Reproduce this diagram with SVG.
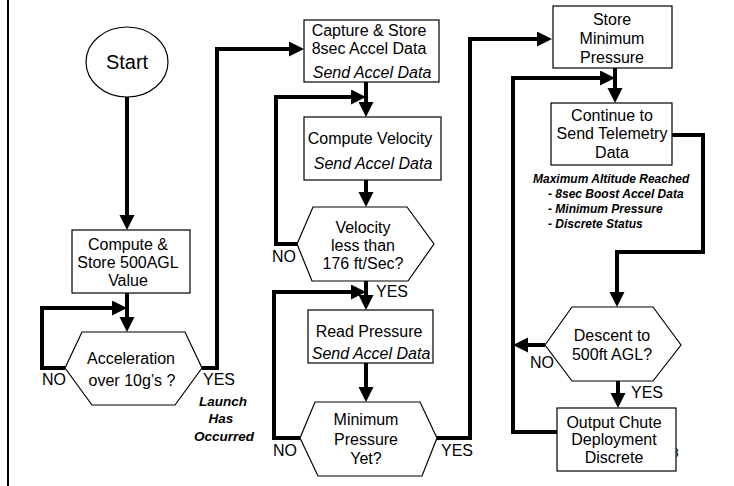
<svg xmlns="http://www.w3.org/2000/svg" width="734" height="486" viewBox="0 0 734 486">
<defs>
<marker id="ah" markerUnits="userSpaceOnUse" markerWidth="16" markerHeight="16" refX="11" refY="7.5" orient="auto">
<path d="M0,0 L15,7.5 L0,15 z" fill="#000"/>
</marker>
<style>
.box{fill:#fff;stroke:#000;stroke-width:1.2}
.t{font-family:"Liberation Sans",Arial,sans-serif;font-size:16px;fill:#000;text-anchor:middle}
.i{font-style:italic}
.lb{font-family:"Liberation Sans",Arial,sans-serif;font-size:16px;fill:#000}
.bi{font-family:"Liberation Sans",Arial,sans-serif;font-size:13.5px;font-weight:bold;font-style:italic;fill:#000}
.c{fill:none;stroke:#000;stroke-width:4;stroke-linejoin:miter}
.a{marker-end:url(#ah)}
</style>
</defs>
<rect width="734" height="486" fill="#fff"/>
<line x1="8" y1="0" x2="8" y2="486" stroke="#000" stroke-width="2"/>

<g id="connectors">
<path class="c a" d="M127,97 V226"/>
<path class="c a" d="M127,293 V328"/>
<path class="c a" d="M65,368 H42 V308 H123"/>
<path class="c a" d="M202,368 H217 V49 H300"/>
<path class="c a" d="M366,82 V113"/>
<path class="c a" d="M297,244 H276 V97 H362"/>
<path class="c a" d="M366,180 V203"/>
<path class="c a" d="M366,281 V306"/>
<path class="c a" d="M300,438 H274 V292 H362"/>
<path class="c a" d="M366,363 V398"/>
<path class="c a" d="M437,438 H470 V39 H548"/>
<path class="c a" d="M615,68 V99"/>
<path class="c a" d="M672,135 H703 V252 H617 V303"/>
<path class="c a" d="M545,345 H517"/>
<path class="c a" d="M618,381 V404"/>
<path class="c a" d="M557,432 H513 V78 H611"/>
</g>

<g id="start">
<ellipse class="box" cx="127" cy="62" rx="41" ry="35"/>
<text class="t" x="127" y="69" style="font-size:20px">Start</text>
</g>

<g id="compute500">
<rect class="box" x="72" y="230" width="118" height="63"/>
<text class="t" x="128" y="250">Compute &amp;</text>
<text class="t" x="128" y="268">Store 500AGL</text>
<text class="t" x="128" y="286">Value</text>
</g>

<g id="accel">
<polygon class="box" points="65,368 82,332 185,332 202,368 175,405 92,405"/>
<text class="t" x="131" y="364">Acceleration</text>
<text class="t" x="132" y="386">over 10g’s ?</text>
<text class="lb" x="42" y="385">NO</text>
<text class="lb" x="203" y="385">YES</text>
<text class="bi" x="223" y="406" text-anchor="middle">Launch</text>
<text class="bi" x="221" y="423" text-anchor="middle">Has</text>
<text class="bi" x="224" y="441" text-anchor="middle">Occurred</text>
</g>

<g id="capture">
<rect class="box" x="304" y="20" width="135" height="62"/>
<text class="t" x="369" y="36">Capture &amp; Store</text>
<text class="t" x="369" y="54">8sec Accel Data</text>
<text class="t i" x="372" y="78">Send Accel Data</text>
</g>

<g id="velocity">
<rect class="box" x="304" y="117" width="137" height="63"/>
<text class="t" x="370" y="144">Compute Velocity</text>
<text class="t i" x="373" y="169">Send Accel Data</text>
</g>

<g id="velcheck">
<polygon class="box" points="297,244 313,207 407,207 434,244 408,281 312,281"/>
<text class="t" x="363" y="233">Velocity</text>
<text class="t" x="363" y="251">less than</text>
<text class="t" x="363" y="269">176 ft/Sec?</text>
<text class="lb" x="272" y="262">NO</text>
<text class="lb" x="376" y="297">YES</text>
</g>

<g id="readpressure">
<rect class="box" x="308" y="310" width="125" height="53"/>
<text class="t" x="369" y="337">Read Pressure</text>
<text class="t i" x="371" y="359">Send Accel Data</text>
</g>

<g id="minpressure">
<polygon class="box" points="300,438 315,402 420,402 437,438 422,476 318,476"/>
<text class="t" x="366" y="425">Minimum</text>
<text class="t" x="366" y="445">Pressure</text>
<text class="t" x="366" y="464">Yet?</text>
<text class="lb" x="273" y="456">NO</text>
<text class="lb" x="441" y="456">YES</text>
</g>

<g id="storemin">
<rect class="box" x="553" y="6" width="119" height="62"/>
<text class="t" x="612" y="25">Store</text>
<text class="t" x="612" y="44">Minimum</text>
<text class="t" x="612" y="63">Pressure</text>
</g>

<g id="telemetry">
<rect class="box" x="551" y="103" width="121" height="62"/>
<text class="t" x="612" y="121">Continue to</text>
<text class="t" x="612" y="139">Send Telemetry</text>
<text class="t" x="612" y="158">Data</text>
<text class="bi" x="533" y="183" style="font-size:12px">Maximum Altitude Reached</text>
<text class="bi" x="548" y="198" style="font-size:12px">- 8sec Boost Accel Data</text>
<text class="bi" x="548" y="213" style="font-size:12px">- Minimum Pressure</text>
<text class="bi" x="548" y="228" style="font-size:12px">- Discrete Status</text>
</g>

<g id="descent">
<polygon class="box" points="545,345 572,307 653,307 681,345 653,381 572,381"/>
<text class="t" x="612" y="341">Descent to</text>
<text class="t" x="612" y="360">500ft AGL?</text>
<text class="lb" x="530" y="368">NO</text>
<text class="lb" x="631" y="398">YES</text>
</g>

<g id="output">
<text x="672" y="457" style="font-family:'Liberation Sans',Arial,sans-serif;font-size:12px">8</text>
<rect class="box" x="557" y="408" width="119" height="63"/>
<text class="t" x="614" y="428">Output Chute</text>
<text class="t" x="614" y="445">Deployment</text>
<text class="t" x="614" y="463">Discrete</text>
</g>
</svg>
